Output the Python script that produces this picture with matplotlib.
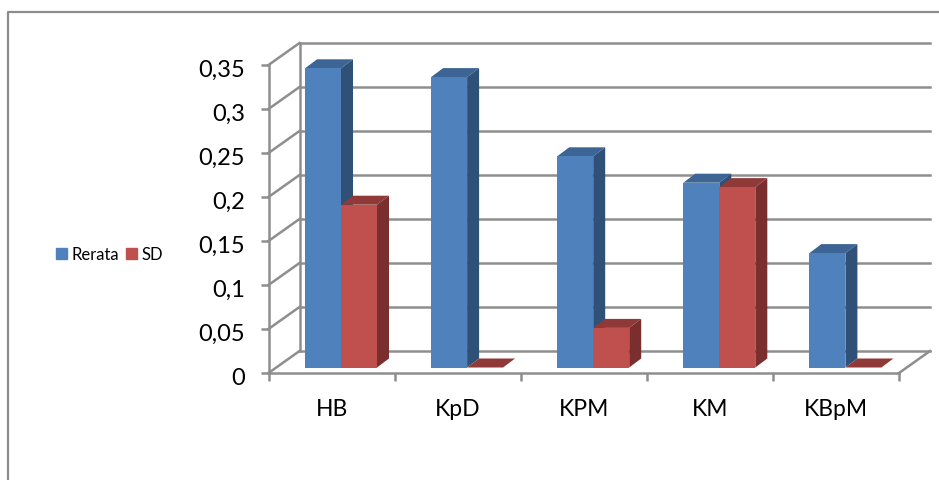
import matplotlib
matplotlib.use("Agg")
import matplotlib.pyplot as plt
from matplotlib.lines import Line2D
from matplotlib.patches import Patch
from matplotlib.transforms import ScaledTranslation

plt.rcParams['font.family'] = ['Lato', 'DejaVu Sans']

categories = ['HB', 'KpD', 'KPM', 'KM', 'KBpM']
rerata = [0.34, 0.33, 0.24, 0.21, 0.13]
sd = [0.185, 0, 0.045, 0.205, 0]
yticks = [0, 0.05, 0.1, 0.15, 0.2, 0.25, 0.3, 0.35]
ylabels = ['0', '0,05', '0,1', '0,15', '0,2', '0,25', '0,3', '0,35']

W, H = 939, 481
GRID = '#8e8e8e'

fig = plt.figure(figsize=(W / 100, H / 100), dpi=100)
# front plane of the fake 3d box, in pixels
left, right, y_zero, y_top = 268.5, 899, 374, 66
ax = fig.add_axes([left / W, 1 - y_zero / H, (right - left) / W, (y_zero - y_top) / H])
ax.set_xlim(0, len(categories))
ax.set_ylim(0, 0.35)
ax.patch.set_alpha(0)

# pixel sizes expressed in data units
px_x = len(categories) / (right - left)
px_y = 0.35 / (y_zero - y_top)
wall_dx, wall_dy = 31 * px_x, 22 * px_y
base_dy = 5.5 * px_y
depth_x, depth_y = 12 * px_x, 9 * px_y
bar_w = 36 * px_x
bar_off = 36.5 * px_x


# walls and gridlines
for v in yticks:
    ax.plot([0, wall_dx], [v, v + wall_dy], color=GRID, lw=1.8, clip_on=False, zorder=1)
    ax.plot([wall_dx, len(categories) + wall_dx], [v + wall_dy, v + wall_dy],
            color=GRID, lw=1.8, clip_on=False, zorder=1)
ax.plot([wall_dx, wall_dx], [wall_dy, 0.35 + wall_dy], color=GRID, lw=1.8, clip_on=False, zorder=1)
ax.plot([len(categories), len(categories) + wall_dx], [0, wall_dy], color=GRID, lw=1.8,
        clip_on=False, zorder=1)


def draw_bar(x, v, front, top, side, z):
    y0 = base_dy
    y1 = base_dy + v
    ax.bar(x, v, bar_w, bottom=y0, align='edge', color=front, lw=0,
           clip_on=False, zorder=z + 0.2)
    ax.fill([x, x + bar_w, x + bar_w + depth_x, x + depth_x],
            [y1, y1, y1 + depth_y, y1 + depth_y], color=top, lw=0, clip_on=False, zorder=z)
    ax.fill([x + bar_w, x + bar_w + depth_x, x + bar_w + depth_x, x + bar_w],
            [y0, y0 + depth_y, y1 + depth_y, y1], color=side, lw=0, clip_on=False, zorder=z)


for i in range(len(categories)):
    x = i + bar_off
    draw_bar(x, rerata[i], '#4f81bd', '#3c6494', '#2f5178', 3)
    draw_bar(x + bar_w, sd[i], '#c0504d', '#8f3a38', '#7a2f2e', 4)

ax.set_xticks(range(len(categories) + 1))
ax.set_xticklabels([])
ax.set_xticks([i + 0.5 for i in range(len(categories))], categories, minor=True)
ax.tick_params(axis='x', which='major', length=6, width=1.8, color=GRID)
ax.tick_params(axis='x', which='minor', length=0, pad=18, labelsize=16.5)
ax.set_yticks(yticks, ylabels)
ax.tick_params(axis='y', length=6, width=1.8, color=GRID, pad=11, labelsize=17)
# labels sit a little under their ticks in the original
for lab in ax.get_yticklabels():
    lab.set_transform(lab.get_transform() + ScaledTranslation(0, -2.5 / 100, fig.dpi_scale_trans))

for s in ['top', 'right']:
    ax.spines[s].set_visible(False)
for s in ['left', 'bottom']:
    ax.spines[s].set_color(GRID)
    ax.spines[s].set_linewidth(1.8)

handles = [Patch(color='#4f81bd', label='Rerata'), Patch(color='#c0504d', label='SD')]
fig.legend(handles=handles, loc='center left', bbox_to_anchor=(56 / W, 1 - 255.5 / H), ncol=2,
           frameon=False, fontsize=12, handlelength=0.66, handleheight=0.66,
           handletextpad=0.25, columnspacing=0.45, borderpad=0, borderaxespad=0)

# chart frame, cropped by the screenshot on the right and bottom
fig.add_artist(Line2D([8 / W, 8 / W, 1], [0, 1 - 13 / H, 1 - 13 / H], color='#8c8c8c', lw=1.6))

fig.savefig('out.png', dpi=100)
